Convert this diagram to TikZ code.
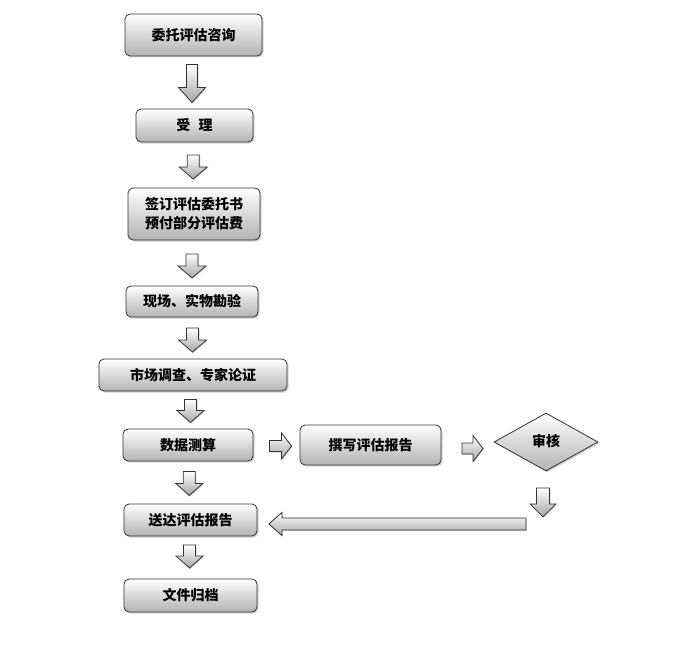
\documentclass[tikz,border=0pt]{standalone}
\usepackage{fontspec}
\newfontfamily\cjk{Noto Sans CJK SC}
\usetikzlibrary{shapes.geometric,shadows,calc}

\tikzset{
  stepbox/.style={draw=black!80, line width=.8pt, rounded corners=5pt,
    top color=white, bottom color=black!30,
    drop shadow={shadow xshift=1.5pt, shadow yshift=-1.5pt, opacity=.35},
    font=\cjk\bfseries\fontsize{14}{19}\selectfont, align=center, inner sep=0pt},
  checkbox/.style={diamond, draw=black!80, line width=.8pt,
    top color=white, bottom color=black!30,
    drop shadow={shadow xshift=1.5pt, shadow yshift=-1.5pt, opacity=.35},
    font=\cjk\bfseries\fontsize{14}{19}\selectfont, inner sep=0pt},
  arrowfill/.style={draw=black!80, line width=.8pt, top color=white, bottom color=black!35,
    drop shadow={shadow xshift=1pt, shadow yshift=-1pt, opacity=.3}},
  % block arrow centred at the origin, pointing along +x
  pics/blkarrow/.style n args={4}{code={
    \path[arrowfill] (-#1/2,-#4/2) -- (#1/2-#2,-#4/2) -- (#1/2-#2,-#3/2)
      -- (#1/2,0) -- (#1/2-#2,#3/2) -- (#1/2-#2,#4/2) -- (-#1/2,#4/2) -- cycle;
  }}
}

\begin{document}
\begin{tikzpicture}[x=1pt,y=-1pt]
\useasboundingbox (0,0) rectangle (682,669);

% main column
\node[stepbox, minimum width=137, minimum height=42] (consult) at (193.5,35)  {委托评估咨询};
\node[stepbox, minimum width=117, minimum height=33] (accept)  at (194.5,125.5) {受\hspace{.6em}理};
\node[stepbox, minimum width=132, minimum height=52] (sign)    at (194,214)   {签订评估委托书\\预付部分评估费};
\node[stepbox, minimum width=132, minimum height=31] (survey)  at (192,301.5) {现场、实物勘验};
\node[stepbox, minimum width=188, minimum height=32] (market)  at (193,375)   {市场调查、专家论证};
\node[stepbox, minimum width=130, minimum height=32] (calc)    at (188,445)   {数据测算};
\node[stepbox, minimum width=133, minimum height=32] (deliver) at (190.5,520) {送达评估报告};
\node[stepbox, minimum width=133, minimum height=33] (archive) at (190.5,595.5) {文件归档};

% side branch
\node[stepbox, minimum width=141, minimum height=40] (write)   at (370.5,445) {撰写评估报告};
\node[checkbox, minimum width=104, minimum height=58] (review)  at (546,442)   {\raisebox{4pt}{审核}};

% block arrows down the column
\pic[rotate=-90] at ($(consult.south)!.5!(accept.north)+(-2,1)$) {blkarrow={38}{15}{27}{11}};
\pic[rotate=-90] at ($(accept.south)!.5!(sign.north)+(-1,2)$)    {blkarrow={24}{12}{28}{12}};
\pic[rotate=-90] at ($(sign.south)!.5!(survey.north)+(-1,3)$)    {blkarrow={24}{12}{28}{12}};
\pic[rotate=-90] at ($(survey.south)!.5!(market.north)+(0,2)$)   {blkarrow={24}{12}{28}{12}};
\pic[rotate=-90] at ($(market.south)!.5!(calc.north)+(0,1)$)     {blkarrow={23}{12}{27}{12}};
\pic[rotate=-90] at ($(calc.south)!.5!(deliver.north)+(0,1)$)    {blkarrow={24}{12}{27}{12}};
\pic[rotate=-90] at ($(deliver.south)!.5!(archive.north)+(-1,-1)$) {blkarrow={23}{12}{27}{12}};

% side arrows
\pic at ($(calc.east)!.5!(write.west)+(4,1)$)   {blkarrow={22}{10}{26}{11}};
\pic at ($(write.east)!.5!(review.west)+(5,5)$) {blkarrow={21}{10}{26}{11}};
\pic[rotate=-90] at ($(review.south)+(-3,31)$)  {blkarrow={29}{13}{26}{13}};
\coordinate (back) at ($(deliver.east)+(140,4)$);
\pic[rotate=180] at (back) {blkarrow={257}{13}{23}{12}};
\end{tikzpicture}
\end{document}
